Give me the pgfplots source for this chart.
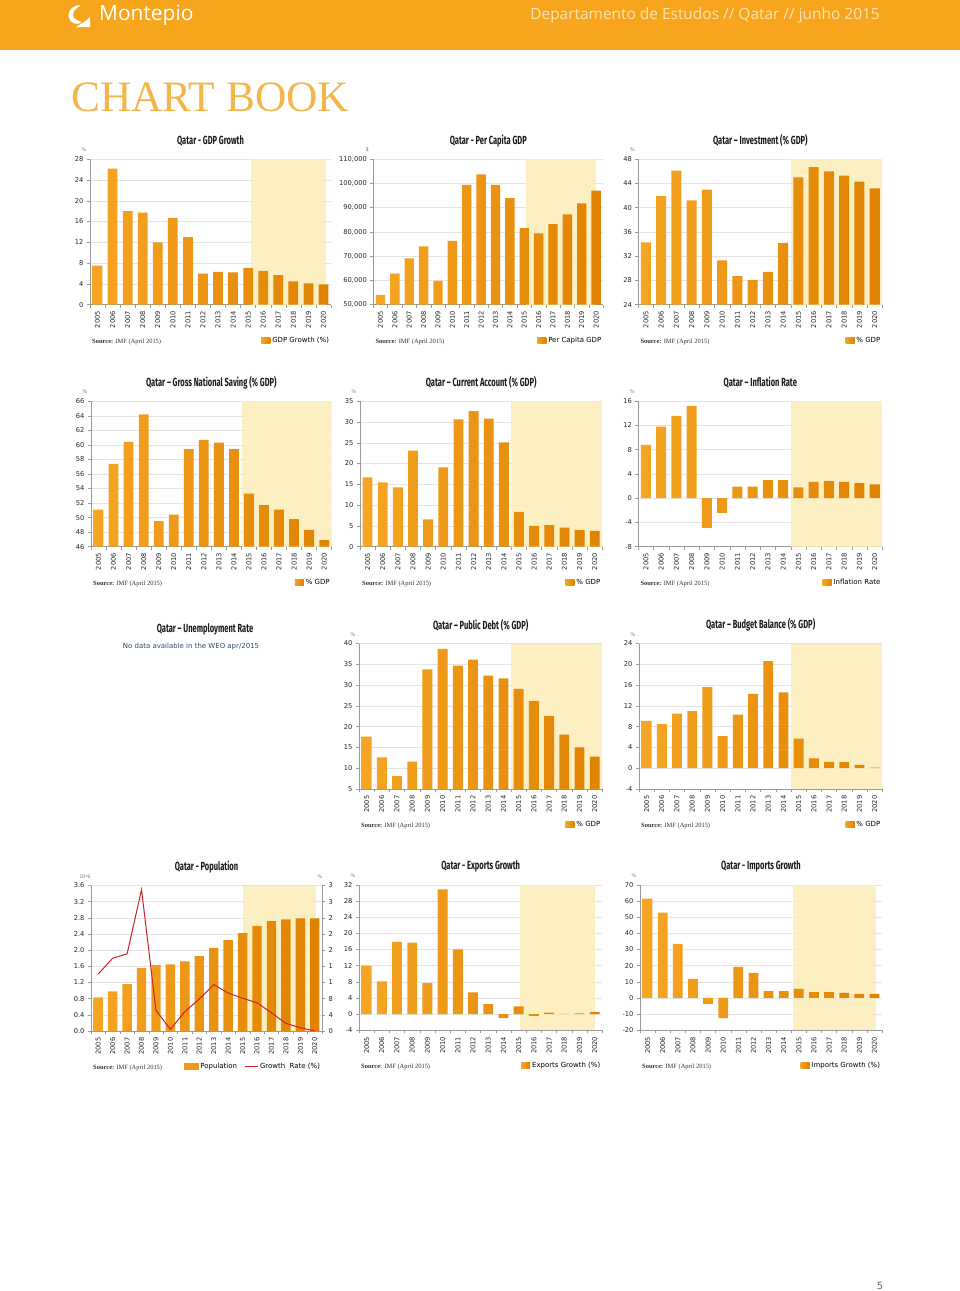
\documentclass[border=0pt]{standalone}
\usepackage{pgfplots}
\pgfplotsset{compat=1.18}
\usepackage{fontspec}
\setmainfont{DejaVu Sans}
\newfontfamily\titlefam[FakeStretch=0.64]{Fira Sans}
\newfontfamily\srcfam{Liberation Serif}
\newfontfamily\headfam{Open Sans}
\newcommand\tickf{\fontsize{6.7}{7.5}\selectfont}
\newcommand\legf{\fontsize{7}{8}\selectfont}
\newcommand\titlef{\titlefam\bfseries\fontsize{11.8}{13}\selectfont}
\newcommand\unitf{\srcfam\fontsize{5.5}{6}\selectfont}
\newcommand\srcf{\srcfam\fontsize{6.5}{8}\selectfont}
\definecolor{bandor}{HTML}{F8A51E}
\definecolor{barA}{HTML}{F39A12}
\definecolor{barL}{HTML}{F6A524}
\definecolor{barM}{HTML}{FFCB66}
\definecolor{barR}{HTML}{DF8200}
\definecolor{fcst}{HTML}{FCEDB8}
\definecolor{gridc}{HTML}{E4E4E4}
\definecolor{axc}{HTML}{9A9A9A}
\definecolor{bookc}{HTML}{F4B64A}
\definecolor{hdtxt}{HTML}{FDE2B2}
\definecolor{popred}{HTML}{D0202A}
\definecolor{nodat}{HTML}{2E4A6B}

\pgfplotsset{
  qbar/.style={
    scale only axis, height=145.5bp,
    xmin=-0.5, xmax=15.5,
    xtick={0,...,15},
    xticklabels={2005,2006,2007,2008,2009,2010,2011,2012,2013,2014,2015,2016,2017,2018,2019,2020},
    minor xtick={-0.5,0.5,...,15.5},
    x tick label style={rotate=90, anchor=east, font=\tickf, text=black!85},
    y tick label style={font=\tickf, text=black!85},
    /pgf/number format/assume math mode=true,
    scaled y ticks=false,
    axis x line*=bottom, axis y line*=left,
    axis line style={axc, line width=0.7bp, -},
    ymajorgrids, grid style={gridc, line width=0.5bp},
    major x tick style={draw=none},
    minor x tick style={axc, line width=0.5bp},
    major y tick style={axc, line width=0.5bp},
    major tick length=3bp, minor tick length=3bp,
    tick align=outside,
    legend style={at={(1,0)}, anchor=east, yshift=-35.5bp, draw=none, fill=none,
      font=\legf, inner sep=0pt, outer sep=0pt},
    legend image code/.code={\fill[barA] (0bp,-3bp) rectangle (9bp,3bp);},
  },
  qbars/.style={ybar, bar width=0.65, draw=none, left color=barL, middle color=barM, right color=barR},
}

\newcommand\decor[3]{%
  \node[font=\titlef, text=black!90] at ([yshift=18.5bp]#1.north) {#2};
  \node[font=\unitf, text=black!60] at ([xshift=-6bp,yshift=9bp]#1.north west) {#3};
  \node[anchor=west, font=\srcf, text=black!80, inner sep=0pt] at ([xshift=2bp,yshift=-37bp]#1.south west) {\textbf{Source:} IMF (April 2015)};
}

\begin{document}
\begin{tikzpicture}
\fill[white] (0,0) rectangle (960bp,-1291bp);
\useasboundingbox (0,0) rectangle (960bp,-1291bp);

% header
\fill[bandor] (0,0) rectangle (960bp,-50bp);
\fill[white] (80bp,-5bp) .. controls (70bp,-6bp) and (66bp,-14bp) .. (70bp,-20bp)
  .. controls (72bp,-24bp) and (78bp,-25bp) .. (82bp,-22bp)
  .. controls (78bp,-21bp) and (72bp,-19bp) .. (73bp,-14bp)
  .. controls (74bp,-9bp) and (78bp,-8bp) .. (80bp,-5bp) -- cycle;
\fill[white] (76bp,-27bp) -- (90bp,-27bp) -- (90bp,-17bp) .. controls (86bp,-22bp) and (80bp,-24bp) .. (76bp,-27bp) -- cycle;
\node[anchor=west, text=white, font=\headfam\fontsize{21}{24}\selectfont, inner sep=0pt] at (99bp,-15bp) {Montepio};
\node[anchor=east, text=hdtxt, font=\headfam\fontsize{15.5}{18}\selectfont, inner sep=0pt] at (880bp,-15bp) {Departamento de Estudos // Qatar // junho 2015};
\node[anchor=west, text=bookc, font=\srcfam\fontsize{43.5}{48}\selectfont, inner sep=0pt] at (71bp,-97bp) {CHART BOOK};

% ---------- Row 1 ----------
\begin{axis}[qbar, name=a1, at={(90bp,-304.7bp)}, anchor=south west, width=241bp,
  ymin=0, ymax=28, ytick={0,4,...,28}]
\fill[fcst, fill opacity=0.85] (axis cs:10.2,0) rectangle (axis cs:15.2,28);
\addplot[qbars] coordinates {(0,7.5) (1,26.2) (2,18.0) (3,17.7) (4,12.0) (5,16.7) (6,13.0) (7,6.0) (8,6.3) (9,6.2) (10,7.1) (11,6.5) (12,5.7) (13,4.5) (14,4.1) (15,3.9)};
\legend{GDP Growth (\%)}
\end{axis}
\decor{a1}{Qatar - GDP Growth}{\%}

\begin{axis}[qbar, name=a2, at={(373.3bp,-304.7bp)}, anchor=south west, width=230bp,
  ymin=50000, ymax=110000, ytick={50000,60000,...,110000},
  yticklabel style={/pgf/number format/fixed, /pgf/number format/1000 sep={,}}]
\fill[fcst, fill opacity=0.85] (axis cs:10.1,50000) rectangle (axis cs:15.0,110000);
\addplot[qbars] coordinates {(0,54100) (1,62800) (2,69100) (3,74100) (4,59800) (5,76300) (6,99400) (7,103700) (8,99400) (9,93900) (10,81600) (11,79400) (12,83200) (13,87300) (14,91800) (15,97000)};
\legend{Per Capita GDP}
\end{axis}
\decor{a2}{Qatar - Per Capita GDP}{\$}

\begin{axis}[qbar, name=a3, at={(638.3bp,-304.7bp)}, anchor=south west, width=244bp,
  ymin=24, ymax=48, ytick={24,28,...,48}]
\fill[fcst, fill opacity=0.85] (axis cs:9.5,24) rectangle (axis cs:15.5,48);
\addplot[qbars] coordinates {(0,34.3) (1,41.9) (2,46.1) (3,41.2) (4,43.0) (5,31.3) (6,28.7) (7,28.1) (8,29.4) (9,34.2) (10,45.0) (11,46.7) (12,46.0) (13,45.3) (14,44.3) (15,43.2)};
\legend{\% GDP}
\end{axis}
\decor{a3}{Qatar – Investment (\% GDP)}{\%}

% ---------- Row 2 ----------
\begin{axis}[qbar, name=a4, at={(91bp,-546.7bp)}, anchor=south west, width=240.7bp,
  ymin=46, ymax=66, ytick={46,48,...,66}]
\fill[fcst, fill opacity=0.85] (axis cs:9.55,46) rectangle (axis cs:15.5,66);
\addplot[qbars] coordinates {(0,51.1) (1,57.4) (2,60.4) (3,64.2) (4,49.5) (5,50.4) (6,59.4) (7,60.7) (8,60.3) (9,59.4) (10,53.3) (11,51.7) (12,51.1) (13,49.8) (14,48.3) (15,46.9)};
\legend{\% GDP}
\end{axis}
\decor{a4}{Qatar – Gross National Saving (\% GDP)}{\%}

\begin{axis}[qbar, name=a5, at={(360bp,-546.7bp)}, anchor=south west, width=242.3bp,
  ymin=0, ymax=35, ytick={0,5,...,35}]
\fill[fcst, fill opacity=0.85] (axis cs:9.5,0) rectangle (axis cs:15.5,35);
\addplot[qbars] coordinates {(0,16.7) (1,15.5) (2,14.3) (3,23.1) (4,6.6) (5,19.1) (6,30.6) (7,32.6) (8,30.8) (9,25.1) (10,8.4) (11,5.0) (12,5.2) (13,4.6) (14,4.0) (15,3.8)};
\legend{\% GDP}
\end{axis}
\decor{a5}{Qatar – Current Account (\% GDP)}{\%}

\begin{axis}[qbar, name=a6, at={(638.3bp,-546.7bp)}, anchor=south west, width=244bp,
  ymin=-8, ymax=16, ytick={-8,-4,...,16}]
\fill[fcst, fill opacity=0.85] (axis cs:9.5,-8) rectangle (axis cs:15.5,16);
\addplot[qbars] coordinates {(0,8.8) (1,11.8) (2,13.6) (3,15.2) (4,-4.9) (5,-2.4) (6,1.9) (7,1.9) (8,3.0) (9,3.0) (10,1.8) (11,2.7) (12,2.8) (13,2.7) (14,2.5) (15,2.3)};
\legend{Inflation Rate}
\end{axis}
\decor{a6}{Qatar – Inflation Rate}{\%}

% ---------- Row 3 ----------
\node[font=\titlef, text=black!90] at (205bp,-629bp) {Qatar – Unemployment Rate};
\node[font=\legf, text=nodat] at (191bp,-647bp) {No data available in the WEO apr/2015};

\begin{axis}[qbar, name=a8, at={(359bp,-789bp)}, anchor=south west, width=243.3bp,
  ymin=5, ymax=40, ytick={5,10,...,40}]
\fill[fcst, fill opacity=0.85] (axis cs:9.5,5) rectangle (axis cs:15.5,40);
\addplot[qbars] coordinates {(0,17.6) (1,12.6) (2,8.1) (3,11.6) (4,33.8) (5,38.7) (6,34.7) (7,36.1) (8,32.3) (9,31.6) (10,29.1) (11,26.2) (12,22.6) (13,18.1) (14,15.0) (15,12.8)};
\legend{\% GDP}
\end{axis}
\decor{a8}{Qatar – Public Debt (\% GDP)}{\%}

\begin{axis}[qbar, name=a9, at={(639bp,-789bp)}, anchor=south west, width=243.3bp,
  ymin=-4, ymax=24, ytick={-4,0,...,24}]
\fill[fcst, fill opacity=0.85] (axis cs:9.5,-4) rectangle (axis cs:15.5,24);
\addplot[qbars] coordinates {(0,9.1) (1,8.5) (2,10.5) (3,11.0) (4,15.6) (5,6.2) (6,10.3) (7,14.3) (8,20.6) (9,14.6) (10,5.7) (11,1.9) (12,1.2) (13,1.15) (14,0.65) (15,0.1)};
\legend{\% GDP}
\end{axis}
\decor{a9}{Qatar – Budget Balance (\% GDP)}{\%}

% ---------- Row 4 ----------
\begin{axis}[qbar, name=a10, at={(91bp,-1031bp)}, anchor=south west, width=231bp,
  ymin=0, ymax=3.6, ytick={0,0.4,...,3.6},
  yticklabel style={/pgf/number format/fixed, /pgf/number format/fixed zerofill, /pgf/number format/precision=1}]
\fill[fcst, fill opacity=0.85] (axis cs:10.0,0) rectangle (axis cs:15.1,3.6);
\addplot[qbars] coordinates {(0,0.83) (1,0.98) (2,1.16) (3,1.56) (4,1.63) (5,1.65) (6,1.72) (7,1.85) (8,2.06) (9,2.25) (10,2.42) (11,2.60) (12,2.72) (13,2.76) (14,2.79) (15,2.79)};
\end{axis}
\begin{axis}[qbar, name=a10r, at={(91bp,-1031bp)}, anchor=south west, width=231bp,
  axis x line=none, axis y line*=right, ymajorgrids=false,
  ymin=0, ymax=36, ytick={0,4,...,36}, yticklabels={0,4,8,1,1,2,2,2,3,3},
  y tick label style={anchor=west},
  legend columns=2,
  legend style={/tikz/every even column/.append style={column sep=5bp}}]
\addlegendimage{legend image code/.code={\fill[barA] (0bp,-3bp) rectangle (14bp,3bp);}}
\addlegendentry{Population}
\addplot[popred, line width=1bp, no marks, legend image code/.code={\draw[popred, line width=1bp] (0bp,0bp) -- (13bp,0bp);}] coordinates {(0,14.1) (1,18.0) (2,19.1) (3,35.0) (4,5.1) (5,0.4) (6,4.8) (7,7.9) (8,11.5) (9,9.4) (10,8.1) (11,7.0) (12,4.5) (13,1.9) (14,0.8) (15,0.0)};
\addlegendentry{Growth~ Rate (\%)}
\end{axis}
\decor{a10}{Qatar - Population}{10\textasciicircum 6}
\node[font=\unitf, text=black!60] at ([xshift=-2bp,yshift=9bp]a10.north east) {\%};

\begin{axis}[qbar, name=a11, at={(359bp,-1030.3bp)}, anchor=south west, width=243.3bp,
  ymin=-4, ymax=32, ytick={-4,0,...,32}]
\fill[fcst, fill opacity=0.85] (axis cs:10.1,-4) rectangle (axis cs:15.0,32);
\addplot[qbars] coordinates {(0,12.0) (1,8.1) (2,17.9) (3,17.7) (4,7.7) (5,30.9) (6,16.0) (7,5.4) (8,2.5) (9,-1.0) (10,1.9) (11,-0.4) (12,0.4) (13,0.05) (14,0.2) (15,0.5)};
\legend{Exports Growth (\%)}
\end{axis}
\decor{a11}{Qatar - Exports Growth}{\%}

\begin{axis}[qbar, name=a12, at={(640bp,-1030.3bp)}, anchor=south west, width=242bp,
  ymin=-20, ymax=70, ytick={-20,-10,...,70}]
\fill[fcst, fill opacity=0.85] (axis cs:9.6,-20) rectangle (axis cs:15.1,70);
\addplot[qbars] coordinates {(0,61.4) (1,52.8) (2,33.5) (3,11.8) (4,-3.7) (5,-12.4) (6,19.2) (7,15.5) (8,4.3) (9,4.3) (10,5.6) (11,3.7) (12,3.7) (13,3.1) (14,2.5) (15,2.5)};
\legend{Imports Growth (\%)}
\end{axis}
\decor{a12}{Qatar - Imports Growth}{\%}

\node[font=\fontsize{10}{12}\selectfont, text=black!60] at (880bp,-1286bp) {5};
\end{tikzpicture}
\end{document}
